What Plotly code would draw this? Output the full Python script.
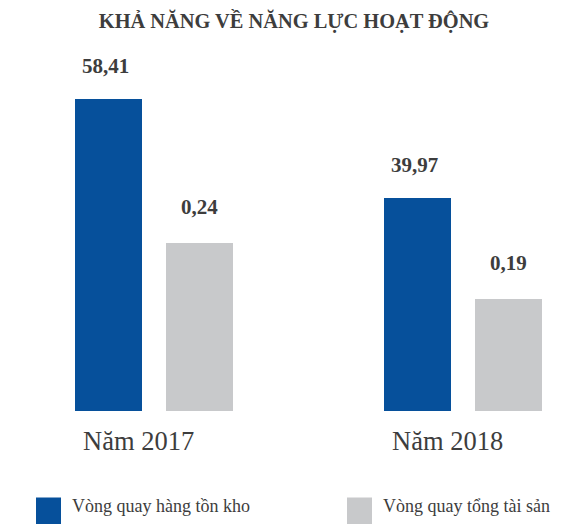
import plotly.graph_objects as go

# ---- data ----
categories = ["Năm 2017", "Năm 2018"]
series_names = ["Vòng quay hàng tồn kho", "Vòng quay tổng tài sản"]
inventory_turnover = [58.41, 39.97]
asset_turnover = [0.24, 0.19]
value_labels_inv = ["58,41", "39,97"]
value_labels_asset = ["0,24", "0,19"]
title_text = "KHẢ NĂNG VỀ NĂNG LỰC HOẠT ĐỘNG"

# ---- style ----
W, H = 582, 524
OFF = 8  # page body margin offset
BLUE = "#06509b"
GRAY = "#c8c9cb"
TXT = "#3d3d3d"
FONT = "Liberation Serif"

plot_top, plot_bottom = 50 - OFF, 411 - OFF
plot_h = plot_bottom - plot_top
group_px = 309.0          # pixels between category centers
first_center_px = 153.5 - OFF
bar_w = 67 / group_px
off_blue = -0.2553
off_gray = 0.0398

idx = list(range(len(categories)))

fig = go.Figure()
fig.add_trace(go.Bar(
    x=idx, y=inventory_turnover, name=series_names[0],
    marker=dict(color=BLUE, line=dict(width=0)),
    width=bar_w, offset=off_blue, yaxis="y", showlegend=False,
    hoverinfo="skip",
))
fig.add_trace(go.Bar(
    x=idx, y=asset_turnover, name=series_names[1],
    marker=dict(color=GRAY, line=dict(width=0)),
    width=bar_w, offset=off_gray, yaxis="y2", showlegend=False,
    hoverinfo="skip",
))

annotations = []
# value labels
for i, (v, t) in enumerate(zip(inventory_turnover, value_labels_inv)):
    annotations.append(dict(
        x=i + off_blue + bar_w / 2, y=v, xref="x", yref="y", text=t,
        showarrow=False, yanchor="middle", yshift=33, xshift=-3,
        font=dict(family=FONT, size=21, color=TXT, weight="bold"),
    ))
for i, (v, t) in enumerate(zip(asset_turnover, value_labels_asset)):
    annotations.append(dict(
        x=i + off_gray + bar_w / 2, y=v, xref="x", yref="y2", text=t,
        showarrow=False, yanchor="middle", yshift=36,
        font=dict(family=FONT, size=21, color=TXT, weight="bold"),
    ))
# category labels
for i, c in enumerate(categories):
    annotations.append(dict(
        x=i, y=0, xref="x", yref="paper", text=c, showarrow=False,
        yanchor="middle", yshift=-30, xshift=-15,
        font=dict(family=FONT, size=26.5, color=TXT),
    ))

# legend (drawn as squares + text)
def py(p):
    return (plot_bottom - (p - OFF)) / plot_h

def px(p):
    return (p - OFF) / W

legend_items = [(series_names[0], BLUE, 36, 70), (series_names[1], GRAY, 347, 381)]
shapes = []
for name, col, sx, tx in legend_items:
    shapes.append(dict(
        type="rect", xref="paper", yref="paper",
        x0=px(sx), x1=px(sx + 25), y0=py(530), y1=py(497.5),
        fillcolor=col, line=dict(width=0),
    ))
    annotations.append(dict(
        x=px(tx), y=py(506), xref="paper", yref="paper", text=name,
        showarrow=False, xanchor="left", yanchor="middle",
        font=dict(family=FONT, size=18, color=TXT),
    ))

blue_scale = (411 - 99) / inventory_turnover[0]
gray_scale = 1126.0
gray_base = asset_turnover[0] - (411 - 242.7) / gray_scale

fig.update_layout(
    width=W, height=H,
    margin=dict(l=0, r=0, t=plot_top, b=H - plot_bottom, pad=0),
    paper_bgcolor="white", plot_bgcolor="white",
    title=dict(text=title_text, x=(294 - OFF) / W, xanchor="center",
               y=1 - (21 - OFF) / H, yanchor="middle",
               font=dict(family=FONT, size=20.4, color=TXT, weight="bold")),
    xaxis=dict(range=[-first_center_px / group_px, (W - first_center_px) / group_px],
               showgrid=False, zeroline=False, showticklabels=False,
               showline=False, fixedrange=True),
    yaxis=dict(range=[0, plot_h / blue_scale], visible=False, showgrid=False,
               zeroline=False),
    yaxis2=dict(range=[gray_base, gray_base + plot_h / gray_scale], visible=False,
                overlaying="y", side="right", showgrid=False, zeroline=False),
    bargap=0, showlegend=False,
    annotations=annotations, shapes=shapes,
)

fig.write_html("out.html")
